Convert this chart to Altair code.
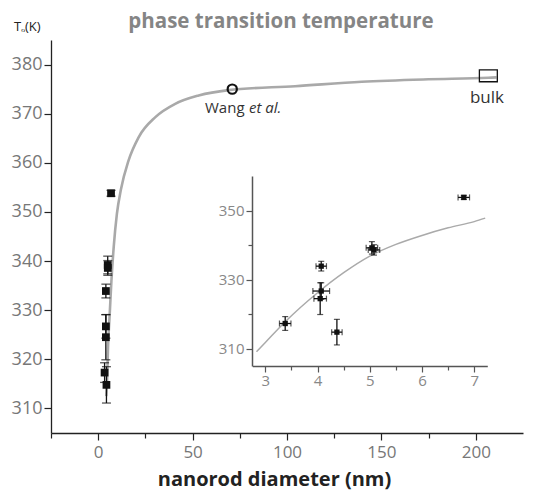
import altair as alt
import pandas as pd

# ---- data ----
d_nm = [3.38, 4.07, 4.07, 4.05, 4.37, 5.04, 5.08, 6.80]
T_K = [317.3, 333.9, 326.7, 324.5, 314.8, 339.2, 338.6, 353.8]
d_err = [0.11, 0.10, 0.16, 0.12, 0.10, 0.11, 0.11, 0.11]
T_err = [2.0, 1.4, 2.4, 4.6, 3.7, 1.8, 1.5, 0.6]

curve_d = [4.3, 4.7, 5.2, 6.1, 7.0, 8.2, 9.9, 12.0, 16.1, 21.4, 30.3, 40.8,
           53.2, 69.0, 104.3, 139.6, 174.9, 206.6, 211.0]
curve_T = [312.5, 315.6, 322.4, 329.2, 336.0, 342.8, 349.6, 354.5, 360.5,
           365.2, 369.3, 372.0, 373.7, 374.8, 375.6, 376.5, 377.0, 377.3, 377.4]

inset_curve_d = [2.83, 3.0, 3.38, 4.0, 4.5, 5.0, 5.5, 6.0, 6.5, 7.0, 7.21]
inset_curve_T = [309.1, 311.8, 317.8, 326.2, 332.0, 336.8, 340.2, 342.8,
                 345.0, 346.8, 347.8]

wang_d = [71.0]
wang_T = [375.0]
bulk_d = [201.9, 211.4]
bulk_T = [376.5, 378.9]

title_label = ["phase transition temperature"]
y_label = ["Tₒ(K)"]
x_title = "nanorod diameter (nm)"
wang_label = ["Wang"]
wang_label_it = ["et al."]
bulk_label = ["bulk"]

main_x_ticks = [-25, 0, 25, 50, 75, 100, 125, 150, 175, 200]
main_y_ticks = [310, 320, 330, 340, 350, 360, 370, 380]
inset_x_ticks = [3, 3.5, 4, 4.5, 5, 5.5, 6, 6.5, 7]
inset_y_ticks = [310, 320, 330, 340, 350]

FONT = "Open Sans"
W, H = 472, 393

pts = pd.DataFrame({"d": d_nm, "T": T_K, "de": d_err, "Te": T_err})
pts["Tlo"] = pts["T"] - pts["Te"]
pts["Thi"] = pts["T"] + pts["Te"]
pts["dlo"] = pts["d"] - pts["de"]
pts["dhi"] = pts["d"] + pts["de"]
curve = pd.DataFrame({"d": curve_d, "T": curve_T})
icurve = pd.DataFrame({"d": inset_curve_d, "T": inset_curve_T})
wang = pd.DataFrame({"d": wang_d, "T": wang_T})
bulk = pd.DataFrame({"d0": [bulk_d[0]], "d1": [bulk_d[1]], "T0": [bulk_T[0]], "T1": [bulk_T[1]]})

# ---- main scales/axes ----
mx_axis = alt.Axis(
    values=main_x_ticks,
    labelExpr="datum.value % 50 == 0 ? datum.label : ''",
    tickSize={"condition": {"test": "datum.value % 50 == 0", "value": 7}, "value": 5},
    domainColor="#222", tickColor="#222", domainWidth=1.3, tickWidth=1.2,
    labelColor="#777", labelFont=FONT, labelFontSize=17, labelPadding=4,
    title=x_title, titleFont=FONT, titleFontSize=20, titleFontWeight="bold",
    titleColor="#222", titleX=223, titleY=52, titleBaseline="alphabetic",
    grid=False,
)
my_axis = alt.Axis(
    values=main_y_ticks, tickSize=7,
    domainColor="#222", tickColor="#222", domainWidth=1.3, tickWidth=1.2,
    labelColor="#777", labelFont=FONT, labelFontSize=18, labelPadding=2,
    title=None, grid=False,
)
mx_scale = alt.Scale(domain=[-25, 225], nice=False, zero=False)
my_scale = alt.Scale(domain=[305, 385], nice=False, zero=False)


def MX(field):
    return alt.X(field, type="quantitative", scale=mx_scale, axis=mx_axis)


def MY(field):
    return alt.Y(field, type="quantitative", scale=my_scale, axis=my_axis)


main_line = alt.Chart(curve).mark_line(color="#a9a9a9", strokeWidth=2.6, interpolate="monotone").encode(
    x=MX("d"), y=MY("T"), order="d:Q")
main_err = alt.Chart(pts).mark_rule(color="#111", strokeWidth=1.3).encode(
    x=MX("d"), y=MY("Tlo"), y2="Thi")
main_cap_lo = alt.Chart(pts).mark_tick(orient="horizontal", color="#111", size=9, thickness=1.3).encode(
    x=MX("d"), y=MY("Tlo"))
main_cap_hi = alt.Chart(pts).mark_tick(orient="horizontal", color="#111", size=9, thickness=1.3).encode(
    x=MX("d"), y=MY("Thi"))
main_pts = alt.Chart(pts).mark_point(shape="square", filled=True, color="#111", size=60, opacity=1).encode(
    x=MX("d"), y=MY("T"))
wang_pt = alt.Chart(wang).mark_point(shape="circle", filled=False, color="#111", size=85, strokeWidth=2.2, opacity=1).encode(
    x=MX("d"), y=MY("T"))
bulk_box = alt.Chart(bulk).mark_rect(fillOpacity=0, stroke="#111", strokeWidth=1.3).encode(
    x=MX("d0"), x2="d1", y=MY("T0"), y2="T1")

title_t = alt.Chart(pd.DataFrame({"t": title_label})).mark_text(
    font=FONT, fontSize=20.5, fontWeight="bold", color="#858585", align="center", baseline="alphabetic"
).encode(x=alt.value(230), y=alt.value(-12), text="t:N")
ylab_t = alt.Chart(pd.DataFrame({"t": y_label})).mark_text(
    font=FONT, fontSize=13, color="#222", align="left", baseline="alphabetic"
).encode(x=alt.value(-37), y=alt.value(-9), text="t:N")
wang_t = alt.Chart(pd.DataFrame({"t": wang_label})).mark_text(
    font=FONT, fontSize=15, color="#333", align="left", baseline="alphabetic"
).encode(x=alt.value(154), y=alt.value(73), text="t:N")
wang_t2 = alt.Chart(pd.DataFrame({"t": wang_label_it})).mark_text(
    font=FONT, fontSize=15, fontStyle="italic", color="#333", align="left", baseline="alphabetic"
).encode(x=alt.value(198), y=alt.value(73), text="t:N")
bulk_t = alt.Chart(pd.DataFrame({"t": bulk_label})).mark_text(
    font=FONT, fontSize=17, color="#333", align="center", baseline="alphabetic"
).encode(x=alt.value(436), y=alt.value(63), text="t:N")

main = alt.layer(main_line, main_err, main_cap_lo, main_cap_hi, main_pts, wang_pt, bulk_box,
                 title_t, ylab_t, wang_t, wang_t2, bulk_t)

# ---- inset ----
ix_axis = alt.Axis(
    orient="bottom", offset=-67, values=inset_x_ticks,
    labelExpr="datum.value % 1 == 0 ? format(datum.value, 'd') : ''",
    tickSize={"condition": {"test": "datum.value % 1 == 0", "value": 6}, "value": 4},
    domainColor="#555", tickColor="#555", domainWidth=1.5, tickWidth=1.2,
    labelColor="#888", labelFont=FONT, labelFontSize=15, labelPadding=1,
    title=None, grid=False,
)
iy_axis = alt.Axis(
    orient="left", offset=-201, values=inset_y_ticks,
    labelExpr="datum.value % 20 == 10 ? datum.label : ''",
    tickSize={"condition": {"test": "datum.value % 20 == 10", "value": 6}, "value": 4},
    domainColor="#555", tickColor="#555", domainWidth=1.5, tickWidth=1.2,
    labelColor="#888", labelFont=FONT, labelFontSize=15, labelPadding=2,
    title=None, grid=False,
)
ix_scale = alt.Scale(domain=[2.75, 7.25], range=[201.3, 436.3], nice=False, zero=False)
iy_scale = alt.Scale(domain=[305, 360], range=[326, 136], nice=False, zero=False)


def IX(field):
    return alt.X(field, type="quantitative", scale=ix_scale, axis=ix_axis)


def IY(field):
    return alt.Y(field, type="quantitative", scale=iy_scale, axis=iy_axis)


in_line = alt.Chart(icurve).mark_line(color="#aaaaaa", strokeWidth=1.5, interpolate="monotone").encode(
    x=IX("d"), y=IY("T"), order="d:Q")
in_yerr = alt.Chart(pts).mark_rule(color="#111", strokeWidth=1.3).encode(x=IX("d"), y=IY("Tlo"), y2="Thi")
in_xerr = alt.Chart(pts).mark_rule(color="#111", strokeWidth=1.3).encode(x=IX("dlo"), x2="dhi", y=IY("T"))
in_ycap_lo = alt.Chart(pts).mark_tick(orient="horizontal", color="#111", size=6, thickness=1.2).encode(x=IX("d"), y=IY("Tlo"))
in_ycap_hi = alt.Chart(pts).mark_tick(orient="horizontal", color="#111", size=6, thickness=1.2).encode(x=IX("d"), y=IY("Thi"))
in_xcap_lo = alt.Chart(pts).mark_tick(orient="vertical", color="#111", size=6, thickness=1.2).encode(x=IX("dlo"), y=IY("T"))
in_xcap_hi = alt.Chart(pts).mark_tick(orient="vertical", color="#111", size=6, thickness=1.2).encode(x=IX("dhi"), y=IY("T"))
in_pts = alt.Chart(pts).mark_point(shape="square", filled=True, color="#111", size=28, opacity=1).encode(
    x=IX("d"), y=IY("T"))

inset = alt.layer(in_line, in_yerr, in_xerr, in_ycap_lo, in_ycap_hi, in_xcap_lo, in_xcap_hi, in_pts)

chart = alt.layer(main, inset).resolve_scale(x="independent", y="independent").properties(
    width=W, height=H,
    autosize=alt.AutoSizeParams(type="none"),
    padding={"left": 43, "top": 32, "right": 6, "bottom": 57},
    background="white",
).configure_view(strokeWidth=0)

chart.save("out.html", embed_options={"renderer": "svg", "actions": False})
